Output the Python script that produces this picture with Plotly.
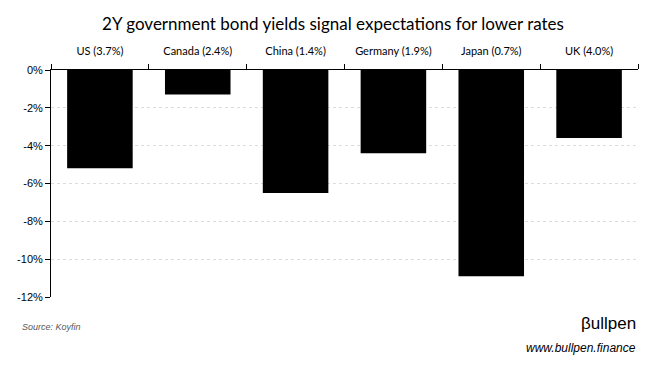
import plotly.graph_objects as go

categories = ["US (3.7%)", "Canada (2.4%)", "China (1.4%)", "Germany (1.9%)", "Japan (0.7%)", "UK (4.0%)"]
values = [-5.2, -1.3, -6.5, -4.4, -10.9, -3.6]
ytick_vals = [0, -2, -4, -6, -8, -10, -12]
ytick_text = ["0%", "-2%", "-4%", "-6%", "-8%", "-10%", "-12%"]

fig = go.Figure(go.Bar(x=categories, y=values, marker=dict(color="black", line=dict(width=0)), width=0.67))

fig.update_layout(
    width=658, height=359,
    margin=dict(l=43, r=28, t=62, b=70, autoexpand=False),
    paper_bgcolor="white", plot_bgcolor="white",
    font=dict(family="Lato, Arial, sans-serif", color="black"),
    title=dict(text="2Y government bond yields signal expectations for lower rates",
               x=0.494, xanchor="center", y=0.956, yanchor="middle",
               font=dict(size=17, family="Lato, Arial, sans-serif", color="black")),
    showlegend=False,
    xaxis=dict(side="top", showline=True, linecolor="black", linewidth=1, automargin=False,
               ticks="outside", tickson="boundaries", ticklen=5, tickcolor="black",
               ticklabelstandoff=10,
               tickfont=dict(size=11, family="Lato, Arial, sans-serif"),
               showgrid=False, range=[-0.5, 5.5], fixedrange=True),
    yaxis=dict(range=[-12, 0], tickvals=ytick_vals, ticktext=ytick_text, automargin=False,
               showline=True, linecolor="black", linewidth=1,
               ticks="outside", ticklen=5, tickcolor="black",
               tickfont=dict(size=11, family="Liberation Sans, Arial, sans-serif"),
               showgrid=True, gridcolor="#dcdcdc", griddash="dot", gridwidth=1,
               zeroline=False),
)

fig.add_annotation(text="<i>Source: Koyfin</i>", xref="paper", yref="paper", x=-0.053, y=-0.132,
                   xanchor="left", yanchor="middle", showarrow=False,
                   font=dict(size=9, color="#595959", family="Liberation Sans, Arial, sans-serif"))
fig.add_annotation(text="βullpen", xref="paper", yref="paper", x=1.0, y=-0.115,
                   xanchor="right", yanchor="middle", showarrow=False,
                   font=dict(size=17, color="black", family="Liberation Sans, Arial, sans-serif"))
fig.add_annotation(text="<i>www.bullpen.finance</i>", xref="paper", yref="paper", x=1.0, y=-0.225,
                   xanchor="right", yanchor="middle", showarrow=False,
                   font=dict(size=12, color="black", family="Liberation Sans, Arial, sans-serif"))

fig.write_html("out.html")
